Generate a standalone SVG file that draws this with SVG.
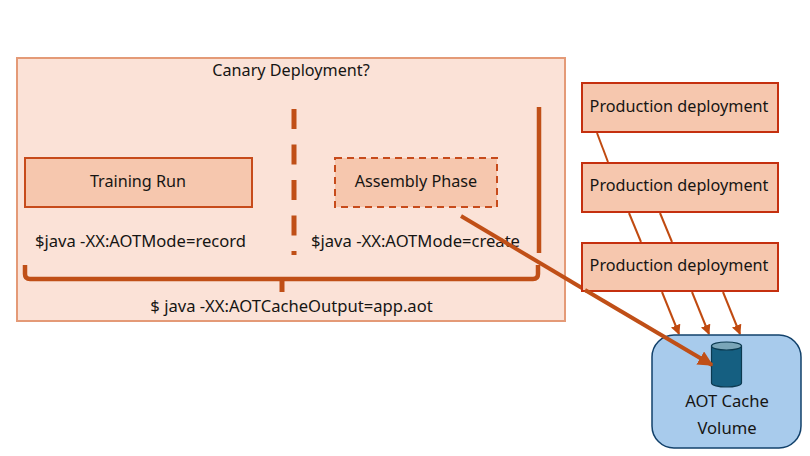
<svg xmlns="http://www.w3.org/2000/svg" width="810" height="456" viewBox="0 0 810 456">
<defs>
<style>
text{font-family:"Noto Sans","Open Sans","Liberation Sans",sans-serif;font-size:16.2px;fill:#161513;text-anchor:middle}
.wide{font-size:16.6px}
.box{fill:#f6c7ae;stroke:#c74b1b;stroke-width:2}
.prod{fill:#f6c7ae;stroke:#c5300f;stroke-width:2}
.thin{fill:none;stroke:#c04a10;stroke-width:2}
.thick{fill:none;stroke:#c04f17;stroke-width:4}
</style>
<marker id="a" viewBox="0 0 10 10" refX="9" refY="5" markerWidth="5" markerHeight="5" orient="auto"><path d="M0 0L10 5L0 10Z" fill="#c04a10"/></marker>
<marker id="b" viewBox="0 0 10 10" refX="9" refY="5" markerWidth="3.8" markerHeight="3.8" orient="auto"><path d="M0 0L10 5L0 10Z" fill="#c04f17"/></marker>
</defs>
<g id="canary">
<rect x="17" y="58" width="548" height="263" fill="#fbe2d7" stroke="#e49a77" stroke-width="2"/>
<text x="291" y="76">Canary Deployment?</text>
</g>
<g id="training">
<rect class="box" x="25" y="158" width="227" height="49"/>
<text x="138" y="187">Training Run</text>
<text class="wide" x="140.500" y="247">$java -XX:AOTMode=record</text>
</g>
<g id="assembly">
<rect class="box" x="335" y="158" width="162" height="49" stroke-dasharray="7 5"/>
<text x="416" y="187">Assembly Phase</text>
<text class="wide" x="415.500" y="246.500">$java -XX:AOTMode=create</text>
</g>
<g id="dividers">
<path d="M294 109V255" fill="none" stroke="#c04f17" stroke-width="5" stroke-dasharray="20 15.500"/>
<path d="M539 107V253" fill="none" stroke="#c04f17" stroke-width="4.500"/>
</g>
<g id="brace">
<path d="M25 265V274Q25 279 30 279H533Q538 279 538 274V265" fill="none" stroke="#c04f17" stroke-width="4.500"/>
<path d="M282 279V292" fill="none" stroke="#c04f17" stroke-width="5"/>
<text class="wide" x="291.500" y="312">$ java -XX:AOTCacheOutput=app.aot</text>
</g>
<g id="connectors">
<path class="thick" d="M461 216L587 291"/>
<path class="thin" d="M597 133L608 162"/>
<path class="thin" d="M629 213L641 242"/>
<path class="thin" d="M660 213L672 242"/>
<path class="thin" d="M662 292L679 334" marker-end="url(#a)"/>
<path class="thin" d="M692 292L709 334" marker-end="url(#a)"/>
<path class="thin" d="M723 292L740 334" marker-end="url(#a)"/>
</g>
<g id="prod1">
<rect class="prod" x="582" y="83" width="196" height="49"/>
<text x="679" y="112">Production deployment</text>
</g>
<g id="prod2">
<rect class="prod" x="582" y="163" width="196" height="49"/>
<text x="679" y="191">Production deployment</text>
</g>
<g id="prod3">
<rect class="prod" x="582" y="243" width="196" height="48"/>
<text x="679" y="271">Production deployment</text>
</g>
<g id="volume">
<rect x="652" y="335" width="149" height="113" rx="22" fill="#a8cbec" stroke="#12416b" stroke-width="1.500"/>
<path d="M711.500 346V383A15 4 0 0 0 741.500 383V346Z" fill="#155f81" stroke="#0c3a50" stroke-width="1.200"/>
<ellipse cx="726.500" cy="346" rx="15" ry="4" fill="#7aa5b8" stroke="#0c3a50" stroke-width="1.200"/>
<text class="wide" x="727" y="407">AOT Cache</text>
<text class="wide" x="727" y="434">Volume</text>
</g>
<path class="thick" d="M585 290L712 365" marker-end="url(#b)"/>
</svg>
